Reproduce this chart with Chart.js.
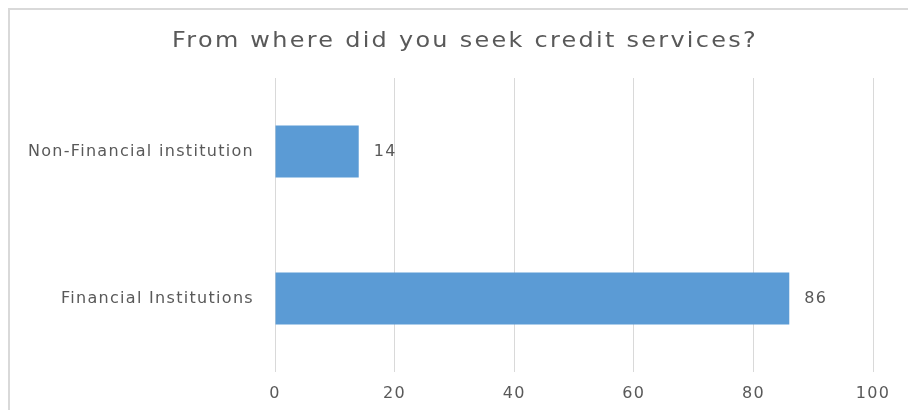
<!DOCTYPE html>
<html>
<head>
<meta charset="utf-8">
<script src="https://cdn.jsdelivr.net/npm/chart.js@4/dist/chart.umd.min.js"></script>
<style>
  html, body { margin: 0; padding: 0; background: #fff; }
  #wrap { position: relative; width: 908px; height: 410px; overflow: hidden; }
  #frame { position: absolute; left: 8px; top: 8px; width: 920px; height: 420px;
           border-top: 2px solid #d9d9d9; border-left: 2px solid #d9d9d9; box-sizing: border-box; }
  canvas { position: absolute; left: 0; top: 0; }
</style>
</head>
<body>
<div id="wrap">
  <div id="frame"></div>
  <canvas id="creditChart" width="908" height="410"></canvas>
</div>
<script>
const chartTitle = 'From where did you seek credit services?'
const categories = ['Non-Financial institution', 'Financial Institutions']
const responses = [14, 86]
const xTicks = [0, 20, 40, 60, 80, 100]

const textColor = '#595959'
const fontFamily = '"DejaVu Sans", sans-serif'
const labelSpacing = '1.3px'

// wide-set text: canvas state is reset on resize, so set spacing before layout and draw
const textSpacing = {
  id: 'textSpacing',
  beforeLayout(chart) { chart.ctx.letterSpacing = labelSpacing },
  beforeDraw(chart) { chart.ctx.letterSpacing = labelSpacing }
}

// title and value labels
const chartText = {
  id: 'chartText',
  afterDatasetsDraw(chart) {
    const ctx = chart.ctx
    const meta = chart.getDatasetMeta(0)
    ctx.save()
    ctx.fillStyle = textColor
    ctx.font = '16px ' + fontFamily
    ctx.textAlign = 'left'
    ctx.textBaseline = 'middle'
    meta.data.forEach((bar, i) => {
      ctx.fillText(String(responses[i]), bar.x + 15, bar.y)
    })

    // title, stretched a little wider
    ctx.font = '21px ' + fontFamily
    ctx.letterSpacing = '2px'
    ctx.textAlign = 'center'
    ctx.textBaseline = 'alphabetic'
    ctx.translate(465, 47)
    ctx.scale(1.14, 1)
    ctx.fillText(chartTitle, 0, 0)
    ctx.restore()
  }
}

new Chart(document.getElementById('creditChart'), {
  type: 'bar',
  data: {
    labels: categories,
    datasets: [{
      data: responses,
      backgroundColor: '#5B9BD5',
      borderWidth: 0,
      categoryPercentage: 1,
      barPercentage: 0.354
    }]
  },
  options: {
    indexAxis: 'y',
    responsive: false,
    animation: false,
    layout: { padding: { top: 78, right: 35, bottom: 0, left: 0 } },
    plugins: {
      legend: { display: false },
      tooltip: { enabled: false },
      title: { display: false }
    },
    scales: {
      x: {
        min: 0,
        max: 100,
        afterBuildTicks(scale) {
          scale.ticks = xTicks.map(v => ({ value: v }))
        },
        afterFit(scale) { scale.height = 38 },
        border: { display: false },
        grid: { color: '#d9d9d9', drawTicks: false },
        ticks: { color: textColor, padding: 12, font: { family: fontFamily, size: 16 } }
      },
      y: {
        afterFit(scale) { scale.width = 275 },
        border: { display: false },
        grid: { display: false, drawTicks: false },
        ticks: { color: textColor, padding: 21, font: { family: fontFamily, size: 16 } }
      }
    }
  },
  plugins: [textSpacing, chartText]
})
</script>
</body>
</html>
